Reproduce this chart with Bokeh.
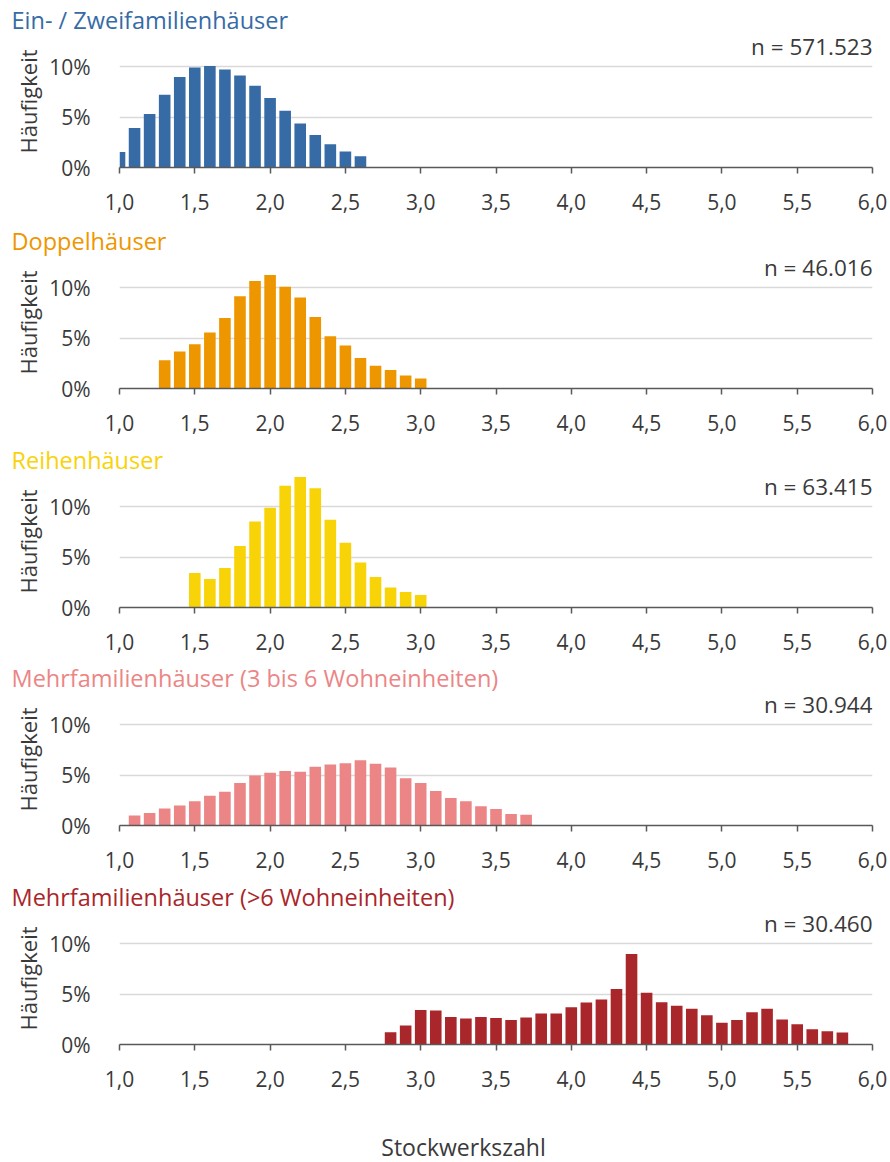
from bokeh.plotting import figure
from bokeh.layouts import column
from bokeh.models import Range1d, Label, FixedTicker, CustomJSTickFormatter, ColumnDataSource
from bokeh.embed import file_html
from bokeh.resources import INLINE

# ---------------- data ----------------
titles = ["Ein- / Zweifamilienhäuser", "Doppelhäuser", "Reihenhäuser",
          "Mehrfamilienhäuser (3 bis 6 Wohneinheiten)", "Mehrfamilienhäuser (>6 Wohneinheiten)"]
n_labels = ["n = 571.523", "n = 46.016", "n = 63.415", "n = 30.944", "n = 30.460"]
colors = ["#366BA6", "#EE9600", "#F8D308", "#EC8585", "#A9262A"]
x_title = "Stockwerkszahl"

# first storey value (bars every 0.1 storeys)
start_floor = [1.0, 1.3, 1.5, 1.1, 2.8]

efh = [1.55, 3.93, 5.31, 7.23, 8.98, 9.93, 10.07, 9.74, 9.14, 8.12, 6.90,
       5.64, 4.36, 3.23, 2.31, 1.58, 1.12]
dh = [2.80, 3.67, 4.40, 5.57, 7.00, 9.17, 10.67, 11.27, 10.10, 9.03, 7.10,
      5.20, 4.27, 3.03, 2.27, 1.83, 1.30, 1.00]
rh = [3.43, 2.84, 3.93, 6.10, 8.55, 9.90, 12.08, 12.97, 11.85, 8.71, 6.44,
      4.46, 3.04, 1.98, 1.55, 1.25]
mfh_small = [1.00, 1.24, 1.68, 1.98, 2.42, 2.95, 3.36, 4.23, 4.97, 5.23, 5.40,
             5.34, 5.84, 6.07, 6.17, 6.48, 6.14, 5.77, 4.70, 4.23, 3.42, 2.72,
             2.42, 1.91, 1.64, 1.14, 1.07]
mfh_large = [1.22, 1.88, 3.43, 3.37, 2.74, 2.57, 2.74, 2.64, 2.44, 2.67, 3.07,
             3.07, 3.70, 4.16, 4.46, 5.51, 8.98, 5.15, 4.19, 3.86, 3.56, 2.90,
             2.15, 2.44, 3.20, 3.56, 2.48, 2.01, 1.52, 1.32, 1.19]
series = [efh, dh, rh, mfh_small, mfh_large]

x_ticks = [1.0, 1.5, 2.0, 2.5, 3.0, 3.5, 4.0, 4.5, 5.0, 5.5, 6.0]
y_ticks = [0, 5, 10]

# ---------------- layout ----------------
FONT = "Open Sans"
TXT = "#3a3a3a"
W = 890
heights = [221, 219, 218, 219, 244]
LABEL_H = 41
LEFT = 119
FRAME_W = 753
RIGHT = W - LEFT - FRAME_W
TOP = 35
ZERO = 167                    # zero line, px from figure top
FRAME_H = ZERO - TOP
PX_PER_PCT = 10.07
Y_END = FRAME_H / PX_PER_PCT
X0, X1 = 1.0, 6.0
PX_PER_X = FRAME_W / (X1 - X0)

figs = []
for i in range(5):
    vals = series[i]
    xs = [round(start_floor[i] + 0.1 * k, 1) for k in range(len(vals))]
    src = ColumnDataSource(dict(x=xs, top=vals))
    h = heights[i]
    p = figure(width=W, height=h, output_backend="svg", toolbar_location=None,
               x_range=Range1d(X0, X1), y_range=Range1d(0, Y_END),
               min_border_left=LEFT, min_border_right=RIGHT,
               min_border_top=TOP, min_border_bottom=h - ZERO,
               tools="")
    p.outline_line_color = None
    p.background_fill_color = "white"
    p.border_fill_color = "white"

    p.title.text = titles[i]
    p.title.text_color = colors[i]
    p.title.text_font = FONT
    p.title.text_font_size = "23.5px"
    p.title.text_font_style = "normal"
    p.title.align = "left"
    p.title.offset = -108
    p.title.standoff = 0

    p.vbar(x="x", top="top", width=0.077, source=src, color=colors[i], line_color=None)

    # axes
    xa = p.xaxis[0]
    xa.ticker = FixedTicker(ticks=x_ticks)
    xa.formatter = CustomJSTickFormatter(code="return tick.toFixed(1).replace('.', ',');")
    xa.axis_line_color = "#595959"
    xa.axis_line_width = 1.5
    xa.major_tick_line_color = "#595959"
    xa.major_tick_line_width = 1.5
    xa.major_tick_out = 6
    xa.major_tick_in = 0
    xa.minor_tick_line_color = None
    xa.major_label_text_font = FONT
    xa.major_label_text_font_size = "21px"
    xa.major_label_text_color = TXT
    xa.major_label_standoff = 20

    ya = p.yaxis[0]
    ya.ticker = FixedTicker(ticks=y_ticks)
    ya.formatter = CustomJSTickFormatter(code="return tick + '%';")
    ya.axis_line_color = None
    ya.major_tick_line_color = None
    ya.minor_tick_line_color = None
    ya.major_label_text_font = FONT
    ya.major_label_text_font_size = "21px"
    ya.major_label_text_color = TXT
    ya.major_label_standoff = 23
    ya.axis_label = "Häufigkeit"
    ya.axis_label_text_font = FONT
    ya.axis_label_text_font_size = "22px"
    ya.axis_label_text_font_style = "normal"
    ya.axis_label_text_color = TXT
    ya.axis_label_standoff = 3

    p.xgrid.grid_line_color = None
    p.ygrid.ticker = FixedTicker(ticks=[5, 10])
    p.ygrid.grid_line_color = "#d9d9d9"
    p.ygrid.grid_line_width = 1.5

    # sample size
    p.add_layout(Label(x=X1, y=121 / PX_PER_PCT, text=n_labels[i], text_align="right",
                       text_baseline="alphabetic", text_font=FONT,
                       text_font_size="22.5px", text_color=TXT))
    figs.append(p)

# strip holding the common x-axis title
q = figure(width=W, height=LABEL_H, output_backend="svg", toolbar_location=None,
           x_range=Range1d(X0, X1), y_range=Range1d(0, LABEL_H),
           min_border_left=LEFT, min_border_right=RIGHT,
           min_border_top=0, min_border_bottom=0, tools="")
q.axis.visible = False
q.grid.grid_line_color = None
q.outline_line_color = None
q.add_layout(Label(x=X0 + (463 - LEFT) / PX_PER_X, y=16, text=x_title,
                   text_align="center", text_baseline="middle", text_font=FONT,
                   text_font_size="23px", text_color=TXT))
figs.append(q)

layout = column(*figs, spacing=0)
open("out.html", "w").write(file_html(layout, INLINE))
